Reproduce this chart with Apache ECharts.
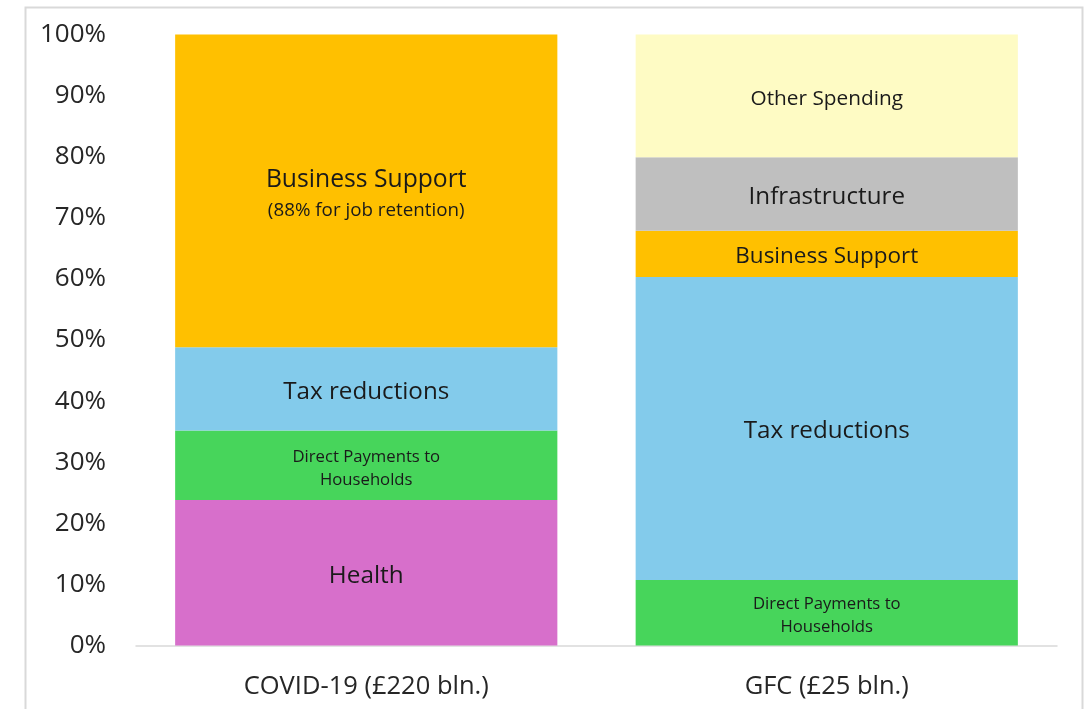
<!DOCTYPE html>
<html>
<head>
<meta charset="utf-8">
<script src="https://cdn.jsdelivr.net/npm/echarts@6/dist/echarts.min.js"></script>
<style>
html,body{margin:0;padding:0;background:#fff;}
#c{width:1086px;height:709px;}
</style>
</head>
<body>
<div id="c"></div>
<script>
const categories = ['COVID-19 (£220 bln.)', 'GFC (£25 bln.)'];
const health = [23.8, null];
const directPayments = [11.4, 10.7];
const taxReductions = [13.6, 49.6];
const businessSupport = [51.2, 7.6];
const infrastructure = [null, 12.0];
const otherSpending = [null, 20.1];
const yTicks = [0, 100, 10];

const FONT = '"Open Sans", "Noto Sans", sans-serif';
const chart = echarts.init(document.getElementById('c'), null, {renderer: 'canvas'});

function mk(name, data, color, labelFn) {
  return {
    name: name,
    type: 'bar',
    stack: 'total',
    barWidth: '83%',
    data: data.map((v, i) => {
      const l = labelFn(i);
      return {value: v, label: l};
    }),
    itemStyle: {color: color},
    label: {show: true, position: 'inside', color: '#1a1a1a', fontFamily: FONT, offset: [0, 3]},
    emphasis: {disabled: true}
  };
}

const option = {
  animation: false,
  textStyle: {fontFamily: FONT},
  graphic: [{
    type: 'rect', left: 23, top: 5, shape: {width: 1057, height: 720},
    style: {fill: 'none', stroke: '#d9d9d9', lineWidth: 2}, silent: true
  }],
  grid: {left: 136, right: 29, top: 34.5, bottom: 63.5},
  xAxis: {
    type: 'category', data: categories,
    axisLine: {lineStyle: {color: '#d9d9d9', width: 1.5}},
    axisTick: {show: false},
    axisLabel: {fontSize: 25.5, color: '#262626', margin: 28, fontFamily: FONT}
  },
  yAxis: {
    type: 'value', min: yTicks[0], max: yTicks[1], interval: yTicks[2],
    splitLine: {show: false}, axisLine: {show: false}, axisTick: {show: false},
    axisLabel: {formatter: '{value}%', fontSize: 26, color: '#262626', margin: 30, fontFamily: FONT, padding: [3, 0, 0, 0]}
  },
  series: [
    mk('Health', health, '#D76FCB', i => i === 0 ? {formatter: 'Health', fontSize: 24.3} : {show: false}),
    mk('Direct Payments to Households', directPayments, '#47D55B', i => ({formatter: 'Direct Payments to\nHouseholds', fontSize: 16.7, lineHeight: 23})),
    mk('Tax reductions', taxReductions, '#83CBEB', i => ({formatter: 'Tax reductions', fontSize: 24.2})),
    mk('Business Support', businessSupport, '#FFC000', i => i === 0 ?
      {formatter: '{a|Business Support}\n{b|(88% for job retention)}', rich: {a: {fontSize: 24.7, lineHeight: 33, fontFamily: FONT, color: '#1a1a1a'}, b: {fontSize: 18.8, lineHeight: 27, fontFamily: FONT, color: '#1a1a1a'}}} :
      {formatter: 'Business Support', fontSize: 22.5}),
    mk('Infrastructure', infrastructure, '#BFBFBF', i => i === 1 ? {formatter: 'Infrastructure', fontSize: 24.2} : {show: false}),
    mk('Other Spending', otherSpending, '#FEFBC4', i => i === 1 ? {formatter: 'Other Spending', fontSize: 20.8} : {show: false})
  ]
};
chart.setOption(option);
</script>
</body>
</html>
